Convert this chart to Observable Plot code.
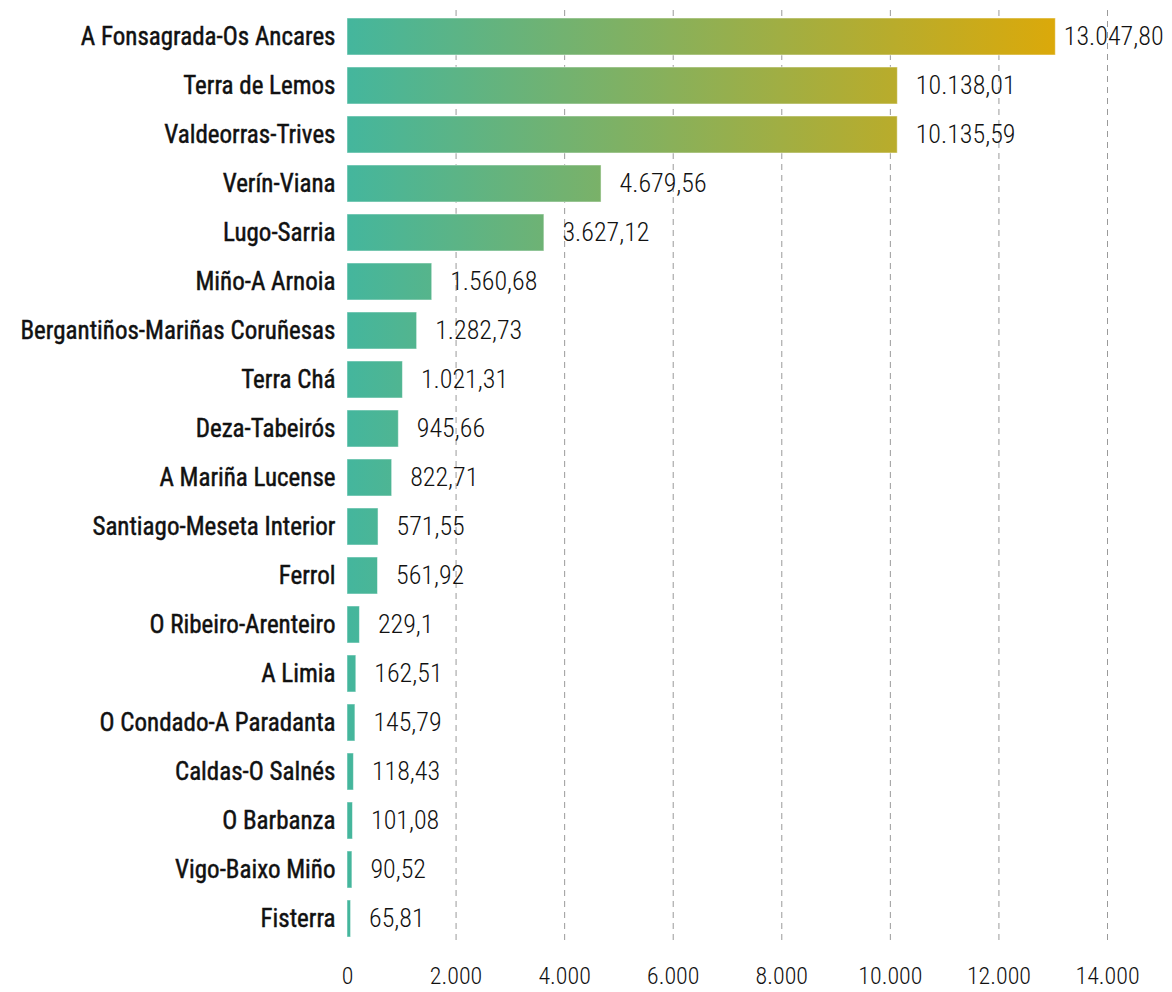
<!DOCTYPE html>
<html>
<head>
<meta charset="utf-8">
<script src="https://cdn.jsdelivr.net/npm/d3@7"></script>
<script src="https://cdn.jsdelivr.net/npm/@observablehq/plot@0.6"></script>
<style>
  html, body { margin: 0; padding: 0; background: #fff; }
  #chart svg { display: block; }
</style>
</head>
<body>
<div id="chart"></div>
<script>
const categories = [
  "A Fonsagrada-Os Ancares", "Terra de Lemos", "Valdeorras-Trives", "Verín-Viana",
  "Lugo-Sarria", "Miño-A Arnoia", "Bergantiños-Mariñas Coruñesas", "Terra Chá",
  "Deza-Tabeirós", "A Mariña Lucense", "Santiago-Meseta Interior", "Ferrol",
  "O Ribeiro-Arenteiro", "A Limia", "O Condado-A Paradanta", "Caldas-O Salnés",
  "O Barbanza", "Vigo-Baixo Miño", "Fisterra"
];
const values = [
  13047.80, 10138.01, 10135.59, 4679.56,
  3627.12, 1560.68, 1282.73, 1021.31,
  945.66, 822.71, 571.55, 561.92,
  229.1, 162.51, 145.79, 118.43,
  101.08, 90.52, 65.81
];
const valueLabels = [
  "13.047,80", "10.138,01", "10.135,59", "4.679,56",
  "3.627,12", "1.560,68", "1.282,73", "1.021,31",
  "945,66", "822,71", "571,55", "561,92",
  "229,1", "162,51", "145,79", "118,43",
  "101,08", "90,52", "65,81"
];
const xTicks = [0, 2000, 4000, 6000, 8000, 10000, 12000, 14000];
const gridTicks = [2000, 4000, 6000, 8000, 10000, 12000, 14000];

const data = categories.map((c, i) => ({name: c, value: values[i], label: valueLabels[i]}));
const maxValue = d3.max(values);
const loc = d3.formatLocale({decimal: ",", thousands: ".", grouping: [3], currency: ["", "€"]});
const fmt = loc.format(",d");

const FONT = "'Roboto Condensed', 'Liberation Sans Narrow', 'DejaVu Sans Condensed', 'Arial Narrow', sans-serif";

const plot = Plot.plot({
  width: 1172,
  height: 992,
  marginLeft: 347,
  marginRight: 65,
  marginTop: 10,
  marginBottom: 47,
  style: {fontFamily: FONT, fontSize: "24px", color: "#111", background: "#fff"},
  x: {domain: [0, 14000], ticks: xTicks, tickFormat: fmt, label: null},
  y: {domain: categories, label: null, paddingInner: 0.245, paddingOuter: 0.15},
  marks: [
    Plot.ruleX(gridTicks, {stroke: "#9a9a9a", strokeWidth: 1, strokeDasharray: "6,5"}),
    Plot.barX(data, {x: "value", y: "name", fill: "url(#barGrad)", stroke: "#ffffff", strokeOpacity: 0.5, strokeWidth: 1}),
    Plot.text(data.filter(d => d.value < maxValue), {x: "value", y: "name", text: "label", textAnchor: "start", dx: 18, fontSize: 26, fontWeight: 300, fill: "#111"}),
    Plot.text(data.filter(d => d.value === maxValue), {x: "value", y: "name", text: "label", textAnchor: "start", dx: 8, fontSize: 26, fontWeight: 300, fill: "#111"}),
    Plot.axisY({tickSize: 0, tickPadding: 12, fontSize: 25, fontWeight: 400, label: null}),
    Plot.axisX({ticks: xTicks, tickFormat: fmt, tickSize: 0, tickPadding: 21, fontSize: 24, fontWeight: 300, label: null})
  ]
});

// slightly heavier category labels (medium look)
d3.select(plot).selectAll('g[aria-label="y-axis tick label"] text')
  .attr("stroke", "#111").attr("stroke-width", 0.45);

const xs = plot.scale("x");
const x0 = xs.apply(0), x1 = xs.apply(maxValue);
const ns = "http://www.w3.org/2000/svg";
const defs = document.createElementNS(ns, "defs");
const grad = document.createElementNS(ns, "linearGradient");
grad.setAttribute("id", "barGrad");
grad.setAttribute("gradientUnits", "userSpaceOnUse");
grad.setAttribute("x1", x0); grad.setAttribute("x2", x1);
grad.setAttribute("y1", 0); grad.setAttribute("y2", 0);
[["0%", "#44b69d"], ["100%", "#dba90a"]].forEach(([o, c]) => {
  const s = document.createElementNS(ns, "stop");
  s.setAttribute("offset", o); s.setAttribute("stop-color", c);
  grad.appendChild(s);
});
defs.appendChild(grad);
plot.insertBefore(defs, plot.firstChild);
document.getElementById("chart").appendChild(plot);
</script>
</body>
</html>
